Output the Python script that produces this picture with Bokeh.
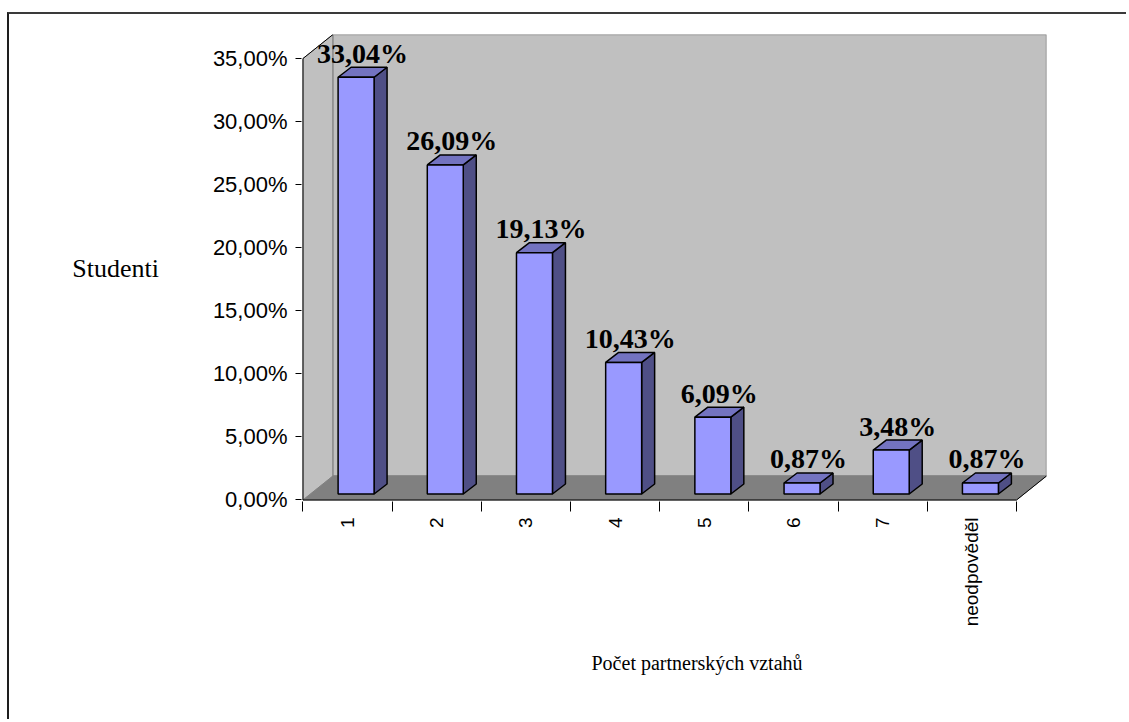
import math
from bokeh.plotting import figure
from bokeh.models import Range1d, FixedTicker, Title
from bokeh.core.properties import value
from bokeh.embed import file_html
from bokeh.resources import INLINE

# ---- data ----
categories = ["1", "2", "3", "4", "5", "6", "7", "neodpověděl"]
percentages = [33.04, 26.09, 19.13, 10.43, 6.09, 0.87, 3.48, 0.87]
y_ticks = [0, 5, 10, 15, 20, 25, 30, 35]
y_tick_labels = ["0,00%", "5,00%", "10,00%", "15,00%", "20,00%", "25,00%", "30,00%", "35,00%"]
x_title = "Počet partnerských vztahů"
y_title = "Studenti"

# ---- geometry (pixels) ----
ORIGIN_X, ORIGIN_Y = 9, 14      # canvas origin on the page (margin + border)
W, H = 1119, 707
CAT_PX = 89.25
Y_MAX = 35
PLOT_H_PX = 441
PCT_PX = PLOT_H_PX / Y_MAX
DEPTH_X_PX, DEPTH_Y_PX = 30, 24
BAR_W_PX, BAR_OFF_X_PX, BAR_OFF_Y_PX = 36, 8.5, 6
BAR_DX_PX, BAR_DY_PX = 13, 10
LABEL_GAP_PX = 14
PAD = 1.5
FRAME_LEFT_PAGE, FRAME_TOP_PAGE = 302, 34

n = len(categories)
dxd = DEPTH_X_PX / CAT_PX
dyd = DEPTH_Y_PX / PCT_PX
frame_w = n * CAT_PX + DEPTH_X_PX + PAD
frame_h = PLOT_H_PX + DEPTH_Y_PX + PAD
left_b = FRAME_LEFT_PAGE - ORIGIN_X - PAD
top_b = FRAME_TOP_PAGE - ORIGIN_Y

p = figure(width=W, height=H, output_backend="svg", toolbar_location=None,
           x_range=Range1d(-PAD / CAT_PX, n + dxd),
           y_range=Range1d(-PAD / PCT_PX, Y_MAX + dyd),
           min_border_left=int(round(left_b)), min_border_top=int(round(top_b)),
           min_border_right=int(round(W - left_b - frame_w)),
           min_border_bottom=int(round(H - top_b - frame_h)))
p.outline_line_color = None
p.grid.visible = False
p.background_fill_color = "white"
p.border_fill_color = "white"
p.margin = (12, 0, 0, 7)
p.styles = {"border-left": "2px solid #1e1e1e", "border-top": "2px solid #3a3a3a"}

# walls and floor
wall_fill = "#C0C0C0"
p.patches(xs=[[0, dxd, dxd, 0]], ys=[[0, dyd, Y_MAX + dyd, Y_MAX]],
          fill_color=wall_fill, line_color="#9a9a9a", line_width=1)
p.patches(xs=[[dxd, n + dxd, n + dxd, dxd]], ys=[[dyd, dyd, Y_MAX + dyd, Y_MAX + dyd]],
          fill_color=wall_fill, line_color="#8a8a8a", line_width=1.5)
p.patches(xs=[[0, n, n + dxd, dxd]], ys=[[0, 0, dyd, dyd]],
          fill_color="#808080", line_color="#808080", line_width=1)
p.line(x=[dxd, 0, 0, n, n + dxd], y=[Y_MAX + dyd, Y_MAX, 0, 0, dyd],
       line_color="black", line_width=1)

# bars
bdx = BAR_DX_PX / CAT_PX
bdy = BAR_DY_PX / PCT_PX
y0 = BAR_OFF_Y_PX / PCT_PX
front_xs, front_ys, side_xs, side_ys, top_xs, top_ys = [], [], [], [], [], []
lab_x, lab_y, lab_t = [], [], []
for i, v in enumerate(percentages):
    fx0 = i + 0.5 + (BAR_OFF_X_PX - BAR_W_PX / 2) / CAT_PX
    fx1 = fx0 + BAR_W_PX / CAT_PX
    y1 = y0 + v
    front_xs.append([fx0, fx1, fx1, fx0]); front_ys.append([y0, y0, y1, y1])
    side_xs.append([fx1, fx1 + bdx, fx1 + bdx, fx1]); side_ys.append([y0, y0 + bdy, y1 + bdy, y1])
    top_xs.append([fx0, fx1, fx1 + bdx, fx0 + bdx]); top_ys.append([y1, y1, y1 + bdy, y1 + bdy])
    lab_x.append((fx0 + fx1) / 2 + bdx / 2)
    lab_y.append(y1 + bdy + LABEL_GAP_PX / PCT_PX)
    lab_t.append(f"{v:.2f}%".replace(".", ","))

p.patches(xs=side_xs, ys=side_ys, fill_color="#4F4F86", line_color="black", line_width=1.5)
p.patches(xs=top_xs, ys=top_ys, fill_color="#7373C0", line_color="black", line_width=1.5)
p.patches(xs=front_xs, ys=front_ys, fill_color="#9999FF", line_color="black", line_width=1.5)

p.text(x=lab_x, y=lab_y, text=lab_t, text_align="center", text_baseline="alphabetic",
       text_font=value("Liberation Serif"), text_font_style="bold",
       text_font_size="28px", text_color="black")

# y axis
ya = p.yaxis[0]
ya.ticker = FixedTicker(ticks=y_ticks)
ya.major_label_overrides = {t: l for t, l in zip(y_ticks, y_tick_labels)}
ya.axis_line_color = None
ya.major_tick_out = 6
ya.major_tick_in = 0
ya.minor_tick_line_color = None
ya.major_tick_line_color = "black"
ya.major_label_text_font = "Liberation Sans"
ya.major_label_text_font_size = "22px"
ya.major_label_text_color = "black"
ya.major_label_standoff = 8
ya.axis_label = y_title
ya.axis_label_orientation = "horizontal"
ya.axis_label_text_font = "Liberation Serif"
ya.axis_label_text_font_style = "normal"
ya.axis_label_text_font_size = "26px"
ya.axis_label_text_color = "black"
ya.axis_label_standoff = 51

# x axis
xa = p.xaxis[0]
centers = [i + 0.5 for i in range(n)]
xa.ticker = FixedTicker(ticks=centers, minor_ticks=list(range(n + 1)))
xa.major_label_overrides = {c: l for c, l in zip(centers, categories)}
xa.axis_line_color = None
xa.major_tick_out = 0
xa.major_tick_in = 0
xa.minor_tick_out = 10
xa.minor_tick_in = 0
xa.minor_tick_line_color = "black"
xa.major_label_orientation = math.pi / 2
xa.major_label_text_font = "Liberation Sans"
xa.major_label_text_font_size = "19px"
xa.major_label_text_color = "black"
xa.major_label_standoff = 6

# x title below the axis
p.add_layout(Title(text=x_title, align="left", offset=290, standoff=41,
                   text_font="Liberation Serif", text_font_style="normal",
                   text_font_size="20px", text_color="black"), "below")

open("out.html", "w").write(file_html(p, INLINE))
